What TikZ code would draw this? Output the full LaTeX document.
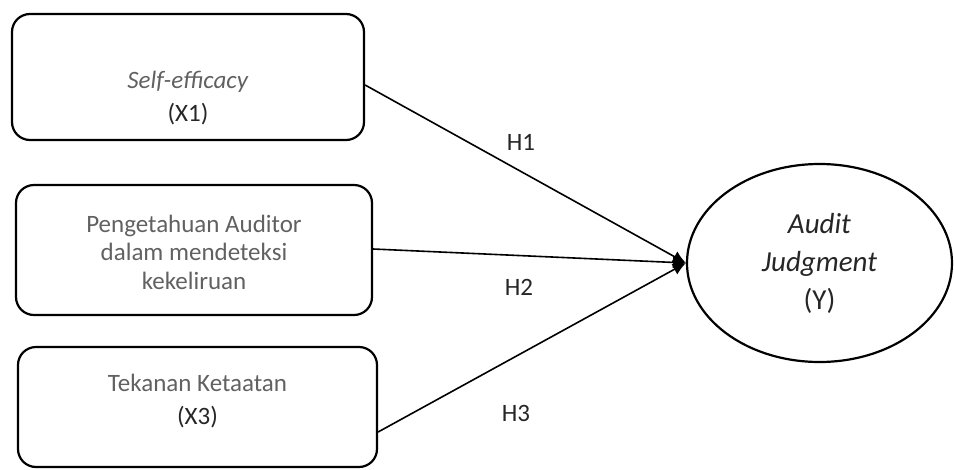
\documentclass[tikz,border=0pt]{standalone}
\usepackage{fontspec}
\setmainfont{Carlito}
\usetikzlibrary{arrows.meta,shapes.geometric}

\begin{document}
\begin{tikzpicture}[
  x = 1pt, y = -1pt,
  > = {Latex[length=13pt,width=12pt]},
  var/.style = {rectangle, draw, line width=2.2pt, rounded corners=18pt,
                inner sep=0pt},
  vartext/.style = {align=center, inner sep=0pt, text=black!62,
                font=\fontsize{25}{33}\selectfont},
  latent/.style = {ellipse, draw, line width=2.2pt, inner sep=0pt,
                minimum width=265pt, minimum height=198pt, align=center,
                text=black!85, font=\fontsize{29}{38}\selectfont},
  path/.style = {->, line width=1.6pt},
  hyp/.style = {inner sep=0pt, text=black!85, font=\fontsize{25}{28}\selectfont}
]
\useasboundingbox (0,0) rectangle (954,469);

% ───────── exogenous boxes ─────────
\node[var, minimum width=352pt, minimum height=126pt] (x1) at (188,77) {};
\node[vartext] (x1t) at (188,98) {\textit{Self-efficacy}\\\textcolor{black!85}{(X1)}};

\node[var, minimum width=356pt, minimum height=130pt] (x2) at (194,250) {};
\node[vartext, font=\fontsize{25}{28.5}\selectfont] (x2t) at (194,252)
  {Pengetahuan Auditor\\dalam mendeteksi\\kekeliruan};

\node[var, minimum width=359pt, minimum height=120pt] (x3) at (197.5,407) {};
\node[vartext] (x3t) at (197.5,401) {Tekanan Ketaatan\\\textcolor{black!85}{(X3)}};

% ───────── endogenous ─────────
\node[latent] (y) at (819.5,263) {\textit{Audit}\\\textit{Judgment}\\(Y)};

% ───────── arrows ──────────
\draw[path] ([yshift=-8pt]x1.east)  -- (y.west);
\draw[path] ([yshift=1pt]x2.east)   -- (y.west);
\draw[path] ([yshift=-25pt]x3.east) -- (y.west);

% ───────── hypotheses ─────────
\node[hyp] (h1) at (521,142) {H1};
\node[hyp] (h2) at (519,287) {H2};
\node[hyp] (h3) at (516,413) {H3};
\end{tikzpicture}
\end{document}
